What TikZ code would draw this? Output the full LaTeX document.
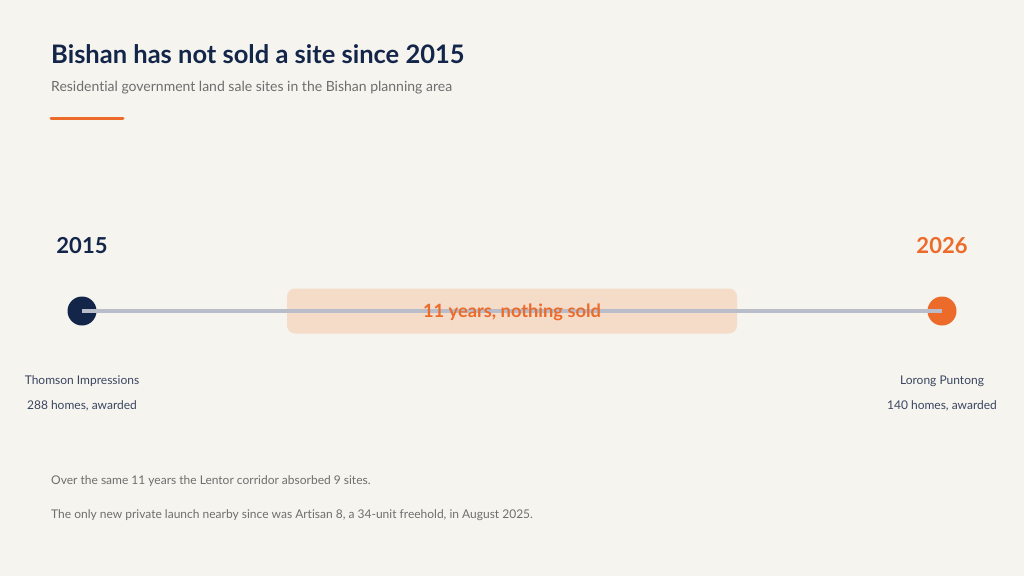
\documentclass[tikz,border=0pt]{standalone}
\usepackage{fontspec}
\setmainfont[Ligatures=NoCommon]{Lato}
\usetikzlibrary{positioning}
\definecolor{paper}{HTML}{F5F4EE}
\definecolor{navy}{HTML}{13264A}
\definecolor{accent}{HTML}{EC6A2A}
\definecolor{peach}{HTML}{F5DCC8}
\definecolor{track}{HTML}{B8BDC9}
\definecolor{greytext}{HTML}{6E6E6E}
\definecolor{labeltext}{HTML}{3A4560}
\begin{document}
\begin{tikzpicture}[x=1pt,y=-1pt,
  every node/.style={inner sep=0pt},
  year/.style={font=\bfseries\fontsize{22}{26}\selectfont},
  dot/.style={circle,minimum size=29pt},
  site/.style={text=labeltext,font=\fontsize{12}{14}\selectfont},
  note/.style={text=greytext,anchor=west,font=\fontsize{12}{14}\selectfont}]
		\fill[paper] (0,0) rectangle (1024,576);
		\node[anchor=base west,text=navy,font=\bfseries\fontsize{25.5}{30}\selectfont] (title) at (51,63) {Bishan has not sold a site since 2015};
		\node[anchor=west,text=greytext,font=\fontsize{14}{16}\selectfont] (subtitle) at (51,88) {Residential government land sale sites in the Bishan planning area};
		\draw[accent,line width=3pt,line cap=round] (51,118) -- (123,118);
		\node[year,text=navy] (y15) at (82,246) {2015};
		\node[year,text=accent] (y26) at (942,246) {2026};
		\node[fill=peach,rounded corners=8pt,minimum width=450pt,minimum height=45pt] (gap) at (512,311) {};
		\node[dot,fill=navy] (d15) at (82,311) {};
		\node[dot,fill=accent] (d26) at (942,311) {};
		\draw[track,line width=4pt] (d15.center) -- (d26.center);
		\node[text=accent,font=\bfseries\fontsize{18.3}{20}\selectfont] (gaplabel) at (512,312.5) {11 years, nothing sold};
		\node[site] (s15) at (82,381) {Thomson Impressions};
		\node[site] (h15) at (82,406) {288 homes, awarded};
		\node[site] (s26) at (942,381) {Lorong Puntong};
		\node[site] (h26) at (942,406) {140 homes, awarded};
		\node[note] (n1) at (51,481) {Over the same 11 years the Lentor corridor absorbed 9 sites.};
		\node[note] (n2) at (51,515) {The only new private launch nearby since was Artisan 8, a 34-unit freehold, in August 2025.};
\end{tikzpicture}
\end{document}
